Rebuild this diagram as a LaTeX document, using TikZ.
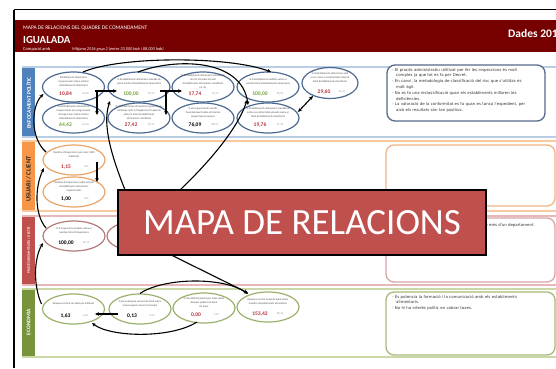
\documentclass[tikz,border=0pt]{standalone}
\usepackage{fontspec}
\setmainfont{Carlito}
\newfontfamily\notefont{DejaVu Sans}
\usetikzlibrary{shapes.geometric,arrows.meta}
\definecolor{hdr}{HTML}{760000}
\definecolor{bandB}{HTML}{4F81BD}
\definecolor{lineB}{HTML}{B9CDE5}
\definecolor{ellB}{HTML}{4D6A92}
\definecolor{bandO}{HTML}{F79646}
\definecolor{lineO}{HTML}{FAC9A0}
\definecolor{ellO}{HTML}{E9A56C}
\definecolor{bandR}{HTML}{C0504D}
\definecolor{lineR}{HTML}{E6B9B8}
\definecolor{ellR}{HTML}{B57A7A}
\definecolor{bandG}{HTML}{77933C}
\definecolor{lineG}{HTML}{C9D8A6}
\definecolor{ellG}{HTML}{9CB06E}
\definecolor{boxB}{HTML}{56698A}
\definecolor{boxO}{HTML}{F0B385}
\definecolor{boxR}{HTML}{D9A3A8}
\definecolor{boxG}{HTML}{A7BA7A}
\definecolor{vred}{HTML}{B8323A}
\definecolor{vgreen}{HTML}{76A33A}
\definecolor{banner}{HTML}{C0504D}
\newcommand\kpi[7]{%
  \node[#3] (#1) at #2 {};
  \node[desc] (#1-d) at ([shift={(0,-5.5)}]#1.center) {#4};
  \node[val, text=#6] (#1-v) at ([shift={(-8,7)}]#1.center) {#5};
  \node[refv] (#1-r) at ([shift={(12,7)}]#1.center) {#7};
}
\begin{document}
\begin{tikzpicture}[x=1pt,y=-1pt,
  ell/.style={ellipse,line width=1.2pt,fill=white,minimum width=62pt,minimum height=30pt,inner sep=0pt},
  eB/.style={ell,draw=ellB},
  eO/.style={ell,draw=ellO},
  eR/.style={ell,draw=ellR},
  eG/.style={ell,draw=ellG},
  desc/.style={font=\fontsize{2.7}{3.9}\selectfont, text=black!70, align=center, inner sep=0pt},
  val/.style={font=\fontsize{5.5}{6}\selectfont\bfseries, inner sep=0pt},
  refv/.style={font=\fontsize{2.8}{3}\selectfont, text=black!40, inner sep=0pt},
  arr/.style={-{Stealth[length=4pt,width=3.6pt]}, line width=1.1pt, black},
  rowlab/.style={rotate=90, inner sep=0pt, font=\bfseries},
  cbox/.style={rectangle, rounded corners=8pt, line width=1.3pt, fill=white, inner sep=0pt},
  note/.style={font=\notefont\fontsize{3.9}{5.8}\selectfont, text=black!80, inner sep=0pt, anchor=north west},
  hd/.style={anchor=base west, text=white, inner sep=0pt}
]
\useasboundingbox (0,0) rectangle (556,368);
\fill[white] (0,0) rectangle (556,368);

% frame and header
\fill[hdr] (15,20) rectangle (556,52);
\draw[line width=1.4pt] (14,9.5) -- (556,9.5);
\draw[line width=1.4pt] (14,9.5) -- (14,368);
\node[hd, font=\fontsize{5.5}{7}\selectfont] (h1) at (23,29) {MAPA DE RELACIONS DEL QUADRE DE COMANDAMENT};
\node[hd, font=\fontsize{10.8}{12}\selectfont\bfseries] (h2) at (23,43) {IGUALADA};
\node[hd, font=\fontsize{4.5}{5}\selectfont] (h3) at (23,50.3) {Comparat amb};
\node[hd, font=\fontsize{4.3}{5}\selectfont\itshape] (h4) at (72,50.3) {Mitjana 2016 grup 2 (entre 33.000 hab i 88.000 hab)};
\node[hd, font=\fontsize{11.5}{13}\selectfont\bfseries] (h5) at (508,37) {Dades 2016};

% row bands
\fill[bandB] (22,67) rectangle (35,137);
\draw[lineB,line width=1.5pt] (22,67) -- (556,67) (22,137) -- (556,137);
\fill[bandO] (22,141) rectangle (35,211);
\draw[lineO,line width=1.5pt] (22,141) -- (556,141) (22,211) -- (556,211);
\fill[bandR] (22,216) rectangle (35,285);
\draw[lineR,line width=1.5pt] (22,216) -- (556,216) (22,285) -- (556,285);
\fill[bandG] (22,289) rectangle (35,357);
\draw[lineG,line width=1.5pt] (22,289) -- (556,289) (22,357) -- (556,357);

\node[rowlab, text=white, font=\fontsize{5.5}{6}\selectfont\bfseries] (lab1) at (28.5,103) {ENFOCAMENT POLÍTIC};
\node[rowlab, text=black!85, font=\fontsize{6.5}{7}\selectfont\bfseries] (lab2) at (28.5,179) {USUARI / CLIENT};
\node[rowlab, text=white, font=\fontsize{3.4}{4}\selectfont\bfseries] (lab3) at (28.5,250) {PROCÉS ORGANITZATIU / GESTIÓ};
\node[rowlab, text=white, font=\fontsize{5.5}{6}\selectfont\bfseries] (lab4) at (28.5,322) {ECONOMIA};

% comment boxes
\node[cbox, draw=boxB, minimum width=158pt, minimum height=56pt] (c1) at (466,93) {};
\node[note, text width=150pt] (c1t) at (392,67.8) {%
\hangindent=4pt\hangafter=1 - El procés administratiu utilitzat per fer les inspeccions és molt\linebreak complex ja que tot es fa per Decret.\par
\hangindent=4pt\hangafter=1 - En canvi, la metodologia de classificació del risc que s'utilitza és\linebreak molt àgil.\par
\hangindent=4pt\hangafter=1 - No es fa una reclassificació quan els establiments milloren les\linebreak deficiències.\par
\hangindent=4pt\hangafter=1 - La valoració de la conformitat es fa quan es tanca l'expedient, per\linebreak això els resultats són tan positius.\par};
\node[cbox, draw=boxO, minimum width=169pt, minimum height=61pt] (c2) at (470.5,175.5) {};
\node[cbox, draw=boxR, minimum width=169pt, minimum height=64pt] (c3) at (470.5,250) {};
\node[note, anchor=base east] (c3t) at (535,226.5) {de més d'un departament.};
\node[cbox, draw=boxG, minimum width=169pt, minimum height=63pt] (c4) at (470.5,323.5) {};
\node[note, text width=160pt] (c4t) at (392,294.8) {%
\hangindent=4pt\hangafter=1 - Es potencia la formació i la comunicació amb els establiments\linebreak alimentaris.\par
\hangindent=4pt\hangafter=1 - No hi ha interès polític en cobrar taxes.\par};

% KPI ellipses, row 1
\kpi{e1}{(73.5,87)}{eB}{Establiments alimentaris\\inspeccionats sobre el total\\d'establiments alimentaris}{10,84}{vred}{46,30}
\kpi{e3}{(139,87)}{eB}{\% d'establiments alimentaris classificats\\sobre el total d'establiments alimentaris}{100,00}{vgreen}{95,20}
\kpi{e5}{(203,87)}{eB}{\% d'establiments alimentaris classificats\\de risc alt sobre el total\\d'establiments alimentaris classificats\\en risc}{17,74}{vred}{14,70}
\kpi{e7}{(268,87)}{eB}{\% d'establiments auditats sobre el\\nombre total d'establiments alimentaris}{100,00}{vgreen}{96,00}
\node[eB, minimum width=56pt, minimum height=31pt] (e9) at (330,83) {};
\node[desc] (e9-d) at ([shift={(0,-5.5)}]e9.center) {\% d'establiments alimentaris amb\\una o més no conformitats sobre el\\total d'establiments classificats};
\node[val, text=vred] (e9-v) at ([shift={(-6,9)}]e9.center) {29,60};
\node[refv] (e9-r) at ([shift={(12,9)}]e9.center) {25,40};
\kpi{e2}{(73.5,118)}{eB}{\% d'establiments alimentaris\\inspeccionats per programació\\d'inspeccions sobre el total\\d'establiments alimentaris}{64,42}{vgreen}{66,18}
\kpi{e4}{(139,118)}{eB}{\% d'establiments alimentaris inspeccionats\\conforme amb la freqüència d'inspecció\\sobre el total d'establiments\\alimentaris classificats}{27,42}{vred}{40,10}
\kpi{e6}{(203,118)}{eB}{\% de requeriments resolts\\favorablement sobre el total de\\requeriments emesos}{76,09}{black}{80,55}
\kpi{e8}{(268,118)}{eB}{\% d'establiments alimentaris classificats\\amb una conformitat elevada sobre el\\total d'establiments classificats}{19,76}{vred}{21,30}

% row 2
\kpi{o1}{(74,160)}{eO}{Nombre d'inspeccions per cada 1.000\\habitants}{1,15}{vred}{1,69}
\kpi{o2}{(74,192)}{eO}{Nombre d'inspeccions sobre el total\\d'establiments alimentaris\\inspeccionats}{1,00}{black}{1,05}

% row 3 (second ellipse lies under the banner)
\kpi{r1}{(74,236)}{eR}{\% d'inspeccions pròpies sobre el\\nombre total d'inspeccions}{100,00}{black}{92,10}
\node[eR] (r2) at (138,236) {};

% row 4
\kpi{g1}{(73.5,309)}{eG}{Despesa corrent de Salut per habitant}{1,63}{black}{4,63}
\kpi{g2}{(140,309)}{eG}{\% de la despesa corrent de Salut sobre\\el pressupost corrent municipal}{0,13}{black}{0,35}
\kpi{g3}{(204,308)}{eG}{\% d'autofinançament per taxes sobre\\despesa pública de Salut\\de taxes}{0,00}{vred}{5,20}
\kpi{g4}{(268,307)}{eG}{Despesa corrent anual de Salut sobre\\nombre d'establiments alimentaris}{153,42}{vred}{98,10}

% connectors row 1
\draw[arr] ([shift={(21.5,4)}]e1.center) -- ([shift={(-22,4)}]e3.center);
\draw[arr] ([shift={(23.5,4)}]e1.center) -- ([shift={(23.5,-3)}]e2.center);
\draw[arr] ([shift={(21,4)}]e3.center) -- ([shift={(-21,4)}]e5.center);
\draw[arr] ([shift={(27,4)}]e3.center) -- ([shift={(27,-3)}]e4.center);
\draw[arr] ([shift={(9.5,-15)}]e1.center) .. controls (120,56) and (230,56) .. ([shift={(3,-15)}]e7.center);
\draw[arr] ([shift={(-1,-15)}]e3.center) .. controls (175,58) and (242,58) .. ([shift={(-20,-13)}]e8.center);
\draw[arr, {Stealth[length=4pt,width=3.6pt]}-{Stealth[length=4pt,width=3.6pt]}] ([shift={(-17,13)}]e9.center) -- ([shift={(30,-6)}]e8.center);

% connectors rows 2-4
\draw[arr] ([shift={(-28,-8)}]o1.center) .. controls (30,138) and (31,106) .. ([shift={(-30,7)}]e1.center);
\draw[arr] ([shift={(23,2)}]o1.center) -- ([shift={(23,-10)}]o2.center);
\draw[arr] ([shift={(-28,-8)}]r1.center) .. controls (34,214) and (35,186) .. ([shift={(-30,8)}]o1.center);
\draw[arr] ([shift={(-32,-5)}]g1.center) .. controls (33,285) and (34,258) .. ([shift={(-31,7)}]r1.center);
\draw[arr] (r2.north) .. controls (118,175) and (100,130) .. ([shift={(-29,14)}]e3.center);
\draw[arr] ([shift={(3,-12)}]r2.center) .. controls (190,185) and (236,135) .. ([shift={(-21,13)}]e7.center);
\draw[arr] ([shift={(5,5)}]r2.center) -- ([shift={(-20,-14)}]g4.center);
\draw[arr] ([shift={(-22,5)}]g2.center) -- ([shift={(21.5,5)}]g1.center);
\draw[arr] ([shift={(-7,14)}]g3.center) .. controls (170,339) and (110,337) .. ([shift={(18.5,14)}]g1.center);
\draw[arr] (g2.north) .. controls (165,277) and (225,277) .. ([shift={(-20,-13)}]g4.center);

% banner
\node[draw=black, line width=1.3pt, fill=banner, minimum width=368pt, minimum height=65pt, inner sep=0pt, text=white, font=\fontsize{37}{40}\selectfont] (title) at (302,222.5) {MAPA DE RELACIONS};
\end{tikzpicture}
\end{document}
